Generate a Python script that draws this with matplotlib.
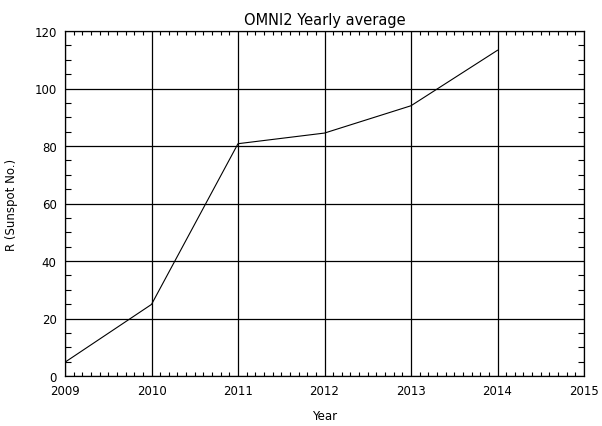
import matplotlib
matplotlib.use("Agg")
import matplotlib.pyplot as plt
from matplotlib.ticker import MultipleLocator

# yearly mean sunspot number
years = [2009, 2010, 2011, 2012, 2013, 2014]
sunspots = [4.8, 24.9, 80.8, 84.5, 94.0, 113.3]

x_ticks = [2009, 2010, 2011, 2012, 2013, 2014, 2015]
y_ticks = [0, 20, 40, 60, 80, 100, 120]

fig = plt.figure(figsize=(6.02, 4.27), dpi=100)
ax = fig.add_axes([65 / 602, 50 / 427, 519 / 602, 345 / 427])

ax.plot(years, sunspots, color="black", linewidth=0.8)

ax.set_xlim(2009, 2015)
ax.set_ylim(0, 120)
ax.set_xticks(x_ticks)
ax.set_yticks(y_ticks)
ax.xaxis.set_minor_locator(MultipleLocator(0.1))
ax.yaxis.set_minor_locator(MultipleLocator(5))
ax.grid(True, which="major", color="black", linewidth=0.9)

ax.tick_params(which="both", direction="in", top=True, right=True,
               labelsize=8.5, color="black")
ax.tick_params(which="major", length=0, pad=6)
ax.tick_params(axis="x", which="minor", length=3, width=0.8)
ax.tick_params(axis="y", which="minor", length=4.5, width=0.8)
for s in ax.spines.values():
    s.set_linewidth(0.9)

ax.set_title("OMNI2 Yearly average", fontsize=10.5, pad=5)
fig.text(325 / 602, 1 - 417 / 427, "Year", fontsize=8.5, ha="center", va="center")
fig.text(12 / 602, 1 - 205 / 427, "R (Sunspot No.)", fontsize=8.5,
         rotation=90, ha="center", va="center")

fig.savefig("out.png", dpi=100)
